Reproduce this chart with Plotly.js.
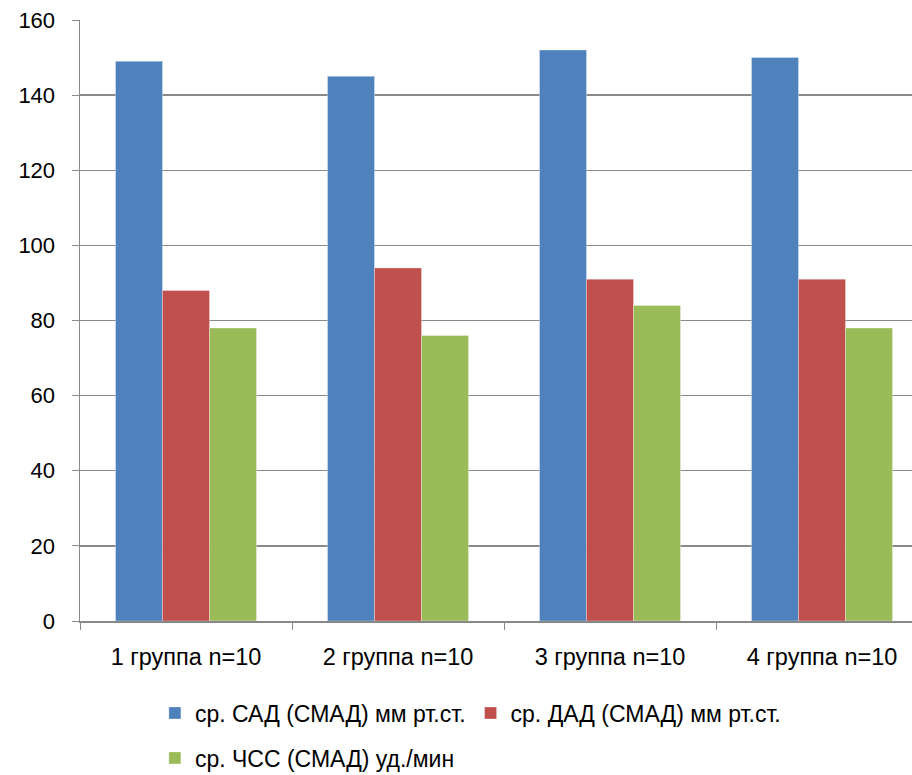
<!DOCTYPE html>
<html>
<head>
<meta charset="utf-8">
<script src="https://cdn.plot.ly/plotly-3.0.1.min.js"></script>
<style>html,body{margin:0;padding:0;background:#fff;}#chart{width:912px;height:775px;}</style>
</head>
<body>
<div id="chart"></div>
<script>
const categories = ["1 группа n=10", "2 группа n=10", "3 группа n=10", "4 группа n=10"];
const seriesNames = ["ср. САД (СМАД) мм рт.ст.", "ср. ДАД (СМАД) мм рт.ст.", "ср. ЧСС (СМАД) уд./мин"];
const sadValues = [149, 145, 152, 150];
const dadValues = [88, 94, 91, 91];
const hrValues = [78, 76, 84, 78];
const yTicks = [0, 20, 40, 60, 80, 100, 120, 140, 160];

const colors = ["#4F81BD", "#C0504D", "#9BBB59"];
const values = [sadValues, dadValues, hrValues];
const legendIds = ["legend", "legend", "legend2"];

const traces = values.map((v, i) => ({
  type: "bar",
  name: seriesNames[i],
  x: categories,
  y: v,
  legend: legendIds[i],
  marker: {color: colors[i], line: {color: "rgba(255,255,255,0.5)", width: 0.6}},
  hoverinfo: "x+y"
}));

const fam = "Liberation Sans, Arial, sans-serif";
const legendFont = {size: 23, family: fam, color: "#000"};

const layout = {
  width: 912,
  height: 775,
  margin: {l: 80, r: 0, t: 20, b: 154},
  paper_bgcolor: "#fff",
  plot_bgcolor: "#fff",
  font: {family: fam, size: 22, color: "#000"},
  barmode: "group",
  bargap: 0.335,
  bargroupgap: 0,
  showlegend: true,
  xaxis: {
    type: "category",
    range: [-0.5, 3.4245],
    showgrid: false,
    showline: true,
    linecolor: "#888888",
    linewidth: 1.5,
    ticks: "outside",
    tickson: "boundaries",
    ticklen: 7,
    tickcolor: "#888888",
    tickfont: {size: 23.5, family: fam, color: "#000"},
    ticklabelstandoff: 14,
    zeroline: false,
    automargin: false
  },
  yaxis: {
    range: [0, 160],
    tickvals: yTicks,
    ticktext: yTicks.map(String),
    showgrid: true,
    gridcolor: "#8a8a8a",
    gridwidth: 1.4,
    showline: true,
    linecolor: "#888888",
    linewidth: 1.5,
    ticks: "outside",
    ticklen: 7,
    tickcolor: "#888888",
    tickfont: {size: 22, family: fam, color: "#000"},
    ticklabelstandoff: 12,
    zeroline: false,
    automargin: false
  },
  legend: {
    orientation: "h",
    x: 0.09,
    xanchor: "left",
    yref: "container",
    y: 0.08,
    yanchor: "middle",
    font: legendFont,
    itemwidth: 30,
    tracegroupgap: 0
  },
  legend2: {
    orientation: "h",
    x: 0.09,
    xanchor: "left",
    yref: "container",
    y: 0.022,
    yanchor: "middle",
    font: legendFont,
    itemwidth: 30
  }
};

Plotly.newPlot("chart", traces, layout, {displayModeBar: false, staticPlot: true});
</script>
</body>
</html>
